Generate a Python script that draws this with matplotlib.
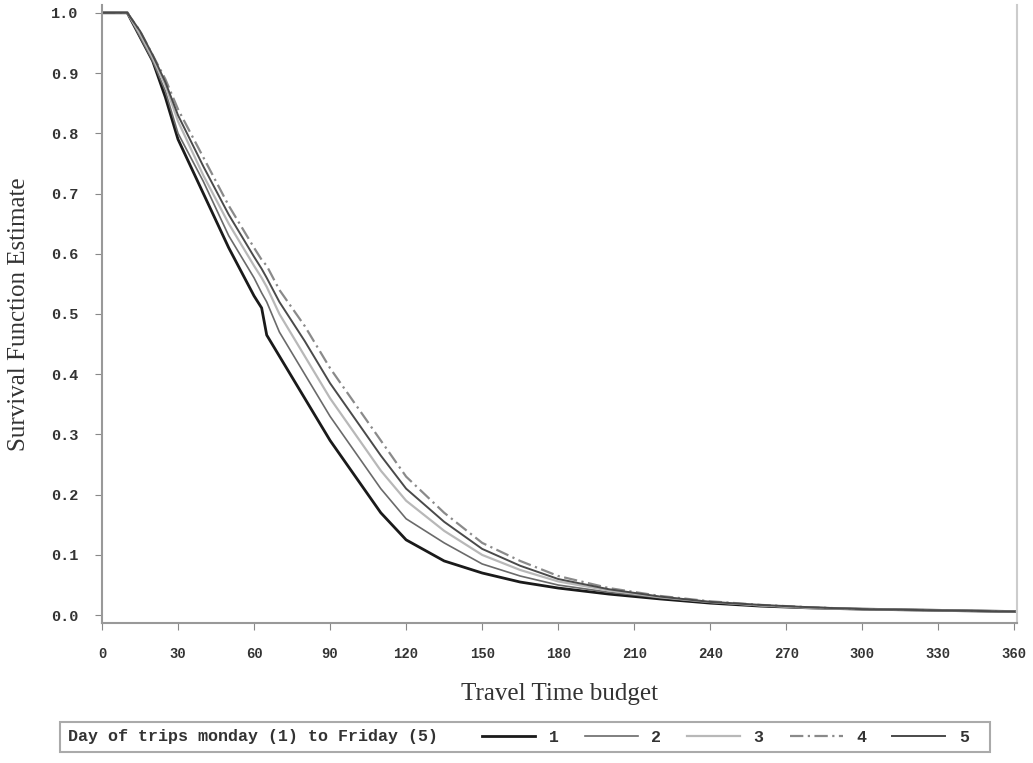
import matplotlib
matplotlib.use("Agg")
from matplotlib import pyplot as plt
from matplotlib.lines import Line2D
from matplotlib.patches import Rectangle

# survival estimates, one list per weekday group
times = [0, 10, 15, 20, 25, 30, 40, 50, 60, 63, 65, 70, 80, 90, 100, 110, 120, 135,
         150, 165, 180, 200, 220, 240, 260, 280, 300, 330, 360]
surv_1 = [1.0, 1.0, 0.96, 0.92, 0.86, 0.79, 0.70, 0.61, 0.53, 0.51, 0.465, 0.43, 0.36, 0.29,
          0.23, 0.17, 0.125, 0.09, 0.07, 0.055, 0.045, 0.035, 0.027, 0.02, 0.015, 0.012,
          0.01, 0.008, 0.006]
surv_2 = [1.0, 1.0, 0.96, 0.92, 0.87, 0.80, 0.72, 0.63, 0.56, 0.535, 0.52, 0.47, 0.40, 0.33,
          0.27, 0.21, 0.16, 0.12, 0.085, 0.065, 0.05, 0.038, 0.029, 0.021, 0.016, 0.012,
          0.01, 0.008, 0.006]
surv_3 = [1.0, 1.0, 0.965, 0.925, 0.88, 0.82, 0.73, 0.65, 0.58, 0.56, 0.545, 0.50, 0.43, 0.36,
          0.30, 0.24, 0.19, 0.14, 0.10, 0.075, 0.056, 0.041, 0.03, 0.022, 0.016, 0.012,
          0.01, 0.008, 0.006]
surv_4 = [1.0, 1.0, 0.97, 0.93, 0.89, 0.84, 0.76, 0.68, 0.61, 0.59, 0.58, 0.54, 0.48, 0.41,
          0.35, 0.29, 0.23, 0.17, 0.12, 0.09, 0.065, 0.045, 0.032, 0.023, 0.017, 0.013,
          0.01, 0.008, 0.006]
surv_5 = [1.0, 1.0, 0.97, 0.93, 0.885, 0.83, 0.745, 0.665, 0.595, 0.575, 0.56, 0.52, 0.455,
          0.385, 0.325, 0.265, 0.21, 0.155, 0.11, 0.082, 0.06, 0.043, 0.031, 0.022, 0.017,
          0.013, 0.01, 0.008, 0.006]
group_labels = ["1", "2", "3", "4", "5"]
legend_title = "Day of trips monday (1) to Friday (5)"
x_ticks = list(range(0, 361, 30))
y_ticks = [0.0, 0.1, 0.2, 0.3, 0.4, 0.5, 0.6, 0.7, 0.8, 0.9, 1.0]

mono = "Liberation Mono"
serif = "Liberation Serif"
W, H = 1033, 763

fig = plt.figure(figsize=(10.33, 7.63), dpi=100)
ax = fig.add_axes([0.0987, 0.1835, 0.8858, 0.81])

styles = [
    dict(color="#1a1a1a", linewidth=2.0, linestyle="-"),
    dict(color="#6a6a6a", linewidth=1.2, linestyle="-"),
    dict(color="#b8b8b8", linewidth=1.6, linestyle="-"),
    dict(color="#8a8a8a", linewidth=1.6, linestyle=(0, (6, 2, 1, 2))),
    dict(color="#4a4a4a", linewidth=1.4, linestyle="-"),
]
series = [surv_1, surv_2, surv_3, surv_4, surv_5]
handles = []
for s, st in zip(series, styles):
    ax.plot(times, s, **st)
    handles.append(Line2D([], [], **st))

ax.set_xlim(0, 361)
ax.set_ylim(-0.013, 1.013)
ax.set_xticks(x_ticks)
ax.set_yticks(y_ticks)
ax.set_xticklabels([str(v) for v in x_ticks], family=mono, fontsize=10,
                   fontweight="bold", color="#333333")
ax.set_yticklabels(["%.1f" % v for v in y_ticks], family=mono, fontsize=11,
                   fontweight="bold", color="#333333")
ax.tick_params(direction="out", length=5, color="#888888", pad=12)

for side in ["left", "bottom", "right"]:
    ax.spines[side].set_color("#999999")
    ax.spines[side].set_linewidth(1.5)
ax.spines["right"].set_color("#cccccc")
ax.spines["top"].set_visible(False)

ax.set_xlabel("Travel Time budget", family=serif, fontsize=18, color="#333333", labelpad=16)
ax.set_ylabel("Survival Function Estimate", family=serif, fontsize=18, color="#333333")
ax.yaxis.set_label_coords(-0.079, 0.5)

# legend frame with the group description on the left
fig.patches.append(Rectangle((60 / W, 1 - 752 / H), 930 / W, 30 / H,
                             transform=fig.transFigure, fill=False,
                             edgecolor="#aaaaaa", linewidth=1.5))
fig.text(68 / W, 1 - 737 / H, legend_title, family=mono, fontsize=12,
         fontweight="bold", color="#333333", va="center", ha="left")
leg = fig.legend(handles, group_labels, ncol=5, loc="center left",
                 bbox_to_anchor=(482 / W, 1 - 737 / H),
                 prop={"family": mono, "size": 12, "weight": "bold"},
                 handlelength=3.2, columnspacing=1.55, handletextpad=0.8,
                 frameon=False, borderpad=0, borderaxespad=0)
for t in leg.get_texts():
    t.set_color("#333333")

fig.savefig("out.png", dpi=100)
